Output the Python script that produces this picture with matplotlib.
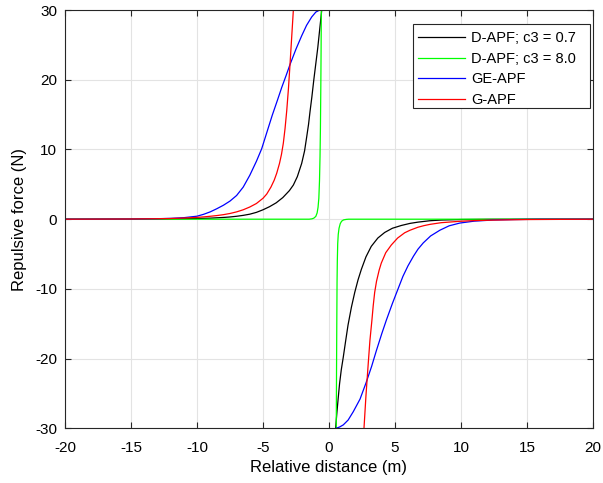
import matplotlib
matplotlib.use("Agg")
import matplotlib.pyplot as plt
from matplotlib.patches import Rectangle

plt.rcParams['font.family'] = ['Liberation Sans', 'DejaVu Sans']
plt.rcParams['axes.unicode_minus'] = False

# D-APF; c3 = 0.7 (black)
black_x_l = [-20, -15, -12, -10, -9, -8, -7.5, -7, -6.5, -6, -5.5, -5, -4.5, -4, -3.5, -3, -2.7, -2.4,
             -2.07, -1.85, -1.69, -1.55, -1.44, -1.3, -1.15, -1.0, -0.85, -0.7, -0.55]
black_y_l = [0, 0.01, 0.04, 0.1, 0.15, 0.25, 0.32, 0.42, 0.55, 0.72, 0.98, 1.35, 1.8, 2.35, 3.1, 4.1, 4.9, 6.1,
             8.0, 9.8, 11.8, 13.6, 15.4, 17.5, 20.0, 22.3, 24.6, 27.3, 30]
black_x_r = [0.5, 0.6, 0.7, 0.8, 0.93, 1.08, 1.25, 1.44, 1.7, 1.95, 2.2, 2.45, 2.8, 3.2, 3.7, 4.22, 4.8,
             5.48, 6.14, 6.74, 7.65, 8.5, 10, 12, 15, 20]
black_y_r = [-30, -27.7, -25.6, -23.6, -21.6, -19.8, -17.6, -15.2, -12.6, -10.5, -8.7, -7.2, -5.4, -3.9, -2.7,
             -1.9, -1.3, -0.9, -0.6, -0.42, -0.22, -0.12, -0.05, -0.02, 0, 0]

# D-APF; c3 = 8.0 (green)
green_x_l = [-20, -1.5, -1.3, -1.15, -1.0, -0.9, -0.83, -0.77, -0.72, -0.68, -0.65, -0.62, -0.6, -0.58]
green_y_l = [0, 0, 0.05, 0.15, 0.4, 0.9, 1.7, 3.0, 5.5, 9.0, 13.0, 19.0, 24.0, 30]
green_x_r = [0.55, 0.57, 0.59, 0.61, 0.63, 0.66, 0.7, 0.76, 0.85, 0.95, 1.1, 1.3, 1.5, 20]
green_y_r = [-30, -22, -15, -9, -6, -3.5, -2.2, -1.3, -0.65, -0.3, -0.1, -0.03, 0, 0]

# GE-APF (blue)
blue_x_l = [-20, -15, -13, -12, -11, -10, -9.5, -9, -8.5, -8, -7.5, -7, -6.5, -6, -5.5, -5.1, -4.7, -4.3,
            -3.9, -3.58, -3.25, -2.95, -2.5, -2.07, -1.7, -1.31, -1.0, -0.75, -0.55]
blue_y_l = [0, 0.02, 0.07, 0.12, 0.22, 0.43, 0.7, 1.05, 1.5, 2.0, 2.6, 3.4, 4.6, 6.3, 8.3, 10.1, 12.5, 14.9,
            17.1, 18.9, 20.6, 22.2, 24.4, 26.3, 27.8, 29.0, 29.7, 29.95, 30]
blue_x_r = [0.52, 0.8, 1.08, 1.45, 1.84, 2.35, 2.8, 3.23, 3.58, 4.0, 4.34, 4.8, 5.23, 5.6, 5.98, 6.4, 6.74,
            7.14, 7.7, 8.4, 9.1, 9.92, 11, 12.4, 14, 16, 20]
blue_y_r = [-30, -29.8, -29.5, -28.8, -27.6, -25.8, -23.5, -21.1, -18.9, -16.4, -14.5, -12.1, -10.0, -8.2,
            -6.7, -5.3, -4.3, -3.4, -2.4, -1.58, -0.95, -0.55, -0.28, -0.12, -0.05, -0.01, 0]

# G-APF (red)
red_x_l = [-20, -15, -13, -12, -11, -10, -9.5, -9, -8.5, -8, -7.5, -7, -6.5, -6, -5.5, -5, -4.72, -4.4,
           -4.15, -3.96, -3.75, -3.6, -3.46, -3.33, -3.2, -3.07, -2.95, -2.83, -2.7]
red_y_l = [0, 0.03, 0.07, 0.1, 0.17, 0.26, 0.33, 0.42, 0.52, 0.65, 0.82, 1.05, 1.35, 1.75, 2.25, 3.0, 3.6, 4.6,
           5.6, 6.6, 8.0, 9.3, 10.9, 13.0, 15.6, 18.8, 22.3, 26.0, 30]
red_x_r = [2.65, 2.8, 2.98, 3.1, 3.25, 3.35, 3.46, 3.6, 3.8, 3.96, 4.3, 4.72, 5.2, 5.73, 6.14, 6.74, 7.2,
           7.65, 8.5, 9.92, 11, 12.4, 15, 20]
red_y_r = [-30, -25.3, -20.5, -17.4, -14.5, -12.4, -10.5, -8.9, -7.3, -6.3, -4.8, -3.7, -2.7, -1.95, -1.58,
           -1.15, -0.92, -0.74, -0.5, -0.3, -0.2, -0.13, -0.05, 0]

labels = ['D-APF; c3 = 0.7', 'D-APF; c3 = 8.0', 'GE-APF', 'G-APF']

W, H = 603, 483
fig = plt.figure(figsize=(W/100, H/100), dpi=100)
ax = fig.add_axes([65/W, 1-428.4/H, (593-65)/W, (428.4-10)/H])

lw = 0.9
ax.plot(black_x_l, black_y_l, color='black', lw=lw, label=labels[0])
ax.plot(black_x_r, black_y_r, color='black', lw=lw)
ax.plot(green_x_l, green_y_l, color='#00ff00', lw=lw, label=labels[1])
ax.plot(green_x_r, green_y_r, color='#00ff00', lw=lw)
ax.plot(blue_x_l, blue_y_l, color='blue', lw=lw, label=labels[2])
ax.plot(blue_x_r, blue_y_r, color='blue', lw=lw)
ax.plot(red_x_l, red_y_l, color='red', lw=lw, label=labels[3])
ax.plot(red_x_r, red_y_r, color='red', lw=lw)

ax.set_xlim(-20, 20)
ax.set_ylim(-30, 30)
ax.set_xticks(range(-20, 21, 5))
ax.set_yticks(range(-30, 31, 10))
ax.grid(True, color='#e3e3e3', lw=0.8)
ax.set_axisbelow(True)
ax.tick_params(direction='in', top=True, right=True, labelsize=11, length=4, width=0.8, color='#262626')
ax.tick_params(axis='x', pad=9)
ax.tick_params(axis='y', pad=5.5)
for s in ax.spines.values():
    s.set_color('#262626')
    s.set_linewidth(0.8)
ax.set_xlabel('Relative distance (m)', fontsize=12, labelpad=3.5)
ax.set_ylabel('Repulsive force (N)', fontsize=12, labelpad=6)

# legend box (drawn separately to match MATLAB padding)
box = Rectangle((413/W, 1-107.7/H), (590-413)/W, (107.7-24)/H,
                transform=fig.transFigure, facecolor='white',
                edgecolor='#262626', lw=0.8, zorder=4.5, clip_on=False)
ax.add_patch(box)
leg = ax.legend(loc='upper left', bbox_to_anchor=(413/W, 1-26.5/H), bbox_transform=fig.transFigure,
                fontsize=10.5, frameon=False, handlelength=3.2, borderpad=0.34,
                labelspacing=0.44, handletextpad=0.42, borderaxespad=0)
leg.set_zorder(6)

fig.savefig('out.png', dpi=100)
